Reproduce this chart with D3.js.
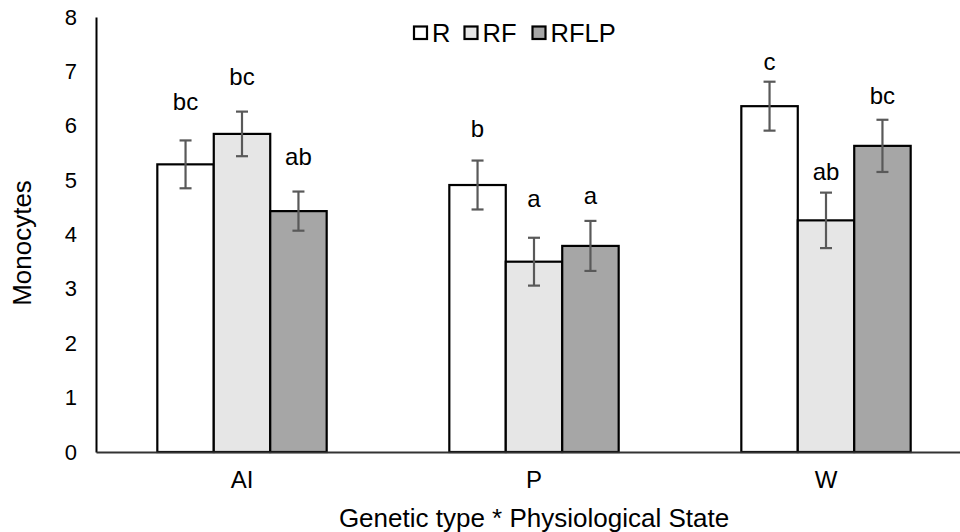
<!DOCTYPE html>
<html>
<head>
<meta charset="utf-8">
<script src="https://cdn.jsdelivr.net/npm/d3@7/dist/d3.min.js"></script>
<style>
  body { margin: 0; background: #fff; }
  svg { display: block; }
  text { font-family: "Liberation Sans", Arial, sans-serif; fill: #000; }
</style>
</head>
<body>
<svg id="chart" width="960" height="532"></svg>
<script>
// ---- data ----
const categories = ["AI", "P", "W"];
const seriesNames = ["R", "RF", "RFLP"];
const valuesR    = [5.29, 4.91, 6.36];
const valuesRF   = [5.85, 3.50, 4.26];
const valuesRFLP = [4.43, 3.79, 5.63];
const errR    = [0.44, 0.45, 0.45];
const errRF   = [0.41, 0.44, 0.51];
const errRFLP = [0.36, 0.46, 0.48];
const lettersR    = ["bc", "b", "c"];
const lettersRF   = ["bc", "a", "ab"];
const lettersRFLP = ["ab", "a", "bc"];
// heights (in data units) at which the letter labels sit
const letterPosR    = [6.29, 5.79, 7.02];
const letterPosRF   = [6.75, 4.51, 5.00];
const letterPosRFLP = [5.28, 4.56, 6.40];
const yTicks = [0, 1, 2, 3, 4, 5, 6, 7, 8];
const yTitle = "Monocytes";
const xTitle = "Genetic type * Physiological State";

const seriesValues = [valuesR, valuesRF, valuesRFLP];
const seriesErr = [errR, errRF, errRFLP];
const seriesLetters = [lettersR, lettersRF, lettersRFLP];
const seriesLetterPos = [letterPosR, letterPosRF, letterPosRFLP];
const fills = ["#ffffff", "#e6e6e6", "#a6a6a6"];

const rows = [];
categories.forEach((c, i) => {
  seriesNames.forEach((s, j) => {
    rows.push({ cat: c, series: s, si: j, value: seriesValues[j][i], err: seriesErr[j][i],
                letter: seriesLetters[j][i], letterPos: seriesLetterPos[j][i] });
  });
});

const svg = d3.select("#chart");
const FONT = "Liberation Sans, Arial, sans-serif";

const x0 = d3.scaleBand().domain(categories).range([96, 972]).paddingInner(0.42).paddingOuter(0.21);
const x1 = d3.scaleBand().domain(seriesNames).range([0, x0.bandwidth()]);
const y = d3.scaleLinear().domain([0, 8]).range([452, 17]);

// y axis
const yAxis = svg.append("g").attr("transform", "translate(96,0)")
  .call(d3.axisLeft(y).tickValues(yTicks).tickSize(0).tickSizeOuter(0).tickPadding(19));
yAxis.select(".domain").attr("stroke", "#000").attr("stroke-width", 2);
yAxis.selectAll("text").style("font-size", "22px").style("font-family", FONT).attr("fill", "#000");

// bars
const g = svg.append("g");
g.selectAll("rect.bar").data(rows).enter().append("rect")
  .attr("class", "bar")
  .attr("x", d => x0(d.cat) + x1(d.series))
  .attr("y", d => y(d.value))
  .attr("width", x1.bandwidth())
  .attr("height", d => y(0) - y(d.value))
  .attr("fill", d => fills[d.si])
  .attr("stroke", "#000")
  .attr("stroke-width", 2.2);

// x axis
const xAxis = svg.append("g").attr("transform", "translate(0,452)")
  .call(d3.axisBottom(x0).tickSize(0).tickSizeOuter(0).tickPadding(19));
xAxis.select(".domain").attr("stroke", "#333").attr("stroke-width", 2);
xAxis.selectAll("text").style("font-size", "24px").style("font-family", FONT).attr("fill", "#000");

// error bars
const eb = svg.append("g").attr("stroke", "#595959").attr("stroke-width", 2.2);
const cx = d => x0(d.cat) + x1(d.series) + x1.bandwidth() / 2;
eb.selectAll("line.v").data(rows).enter().append("line")
  .attr("x1", cx).attr("x2", cx)
  .attr("y1", d => y(d.value + d.err)).attr("y2", d => y(d.value - d.err));
eb.selectAll("line.t").data(rows).enter().append("line")
  .attr("x1", d => cx(d) - 6).attr("x2", d => cx(d) + 6)
  .attr("y1", d => y(d.value + d.err)).attr("y2", d => y(d.value + d.err));
eb.selectAll("line.b").data(rows).enter().append("line")
  .attr("x1", d => cx(d) - 6).attr("x2", d => cx(d) + 6)
  .attr("y1", d => y(d.value - d.err)).attr("y2", d => y(d.value - d.err));

// letters
svg.append("g").selectAll("text").data(rows).enter().append("text")
  .attr("x", cx)
  .attr("y", d => y(d.letterPos))
  .attr("text-anchor", "middle")
  .style("font-size", "24px")
  .text(d => d.letter);

// axis titles
svg.append("text")
  .attr("transform", "translate(31,243) rotate(-90)")
  .attr("text-anchor", "middle")
  .style("font-size", "26px")
  .text(yTitle);
svg.append("text")
  .attr("x", 534).attr("y", 527)
  .attr("text-anchor", "middle")
  .style("font-size", "26px")
  .text(xTitle);

// legend
const legend = svg.append("g").attr("transform", "translate(414,26.5)");
const legX = [0, 50.5, 118.5];
seriesNames.forEach((s, j) => {
  const lg = legend.append("g").attr("transform", `translate(${legX[j]},0)`);
  lg.append("rect").attr("x", 0).attr("y", 0).attr("width", 13).attr("height", 12.5)
    .attr("fill", fills[j]).attr("stroke", "#000").attr("stroke-width", 2.2);
  lg.append("text").attr("x", 18).attr("y", 15).style("font-size", "25.5px").text(s);
});
</script>
</body>
</html>
